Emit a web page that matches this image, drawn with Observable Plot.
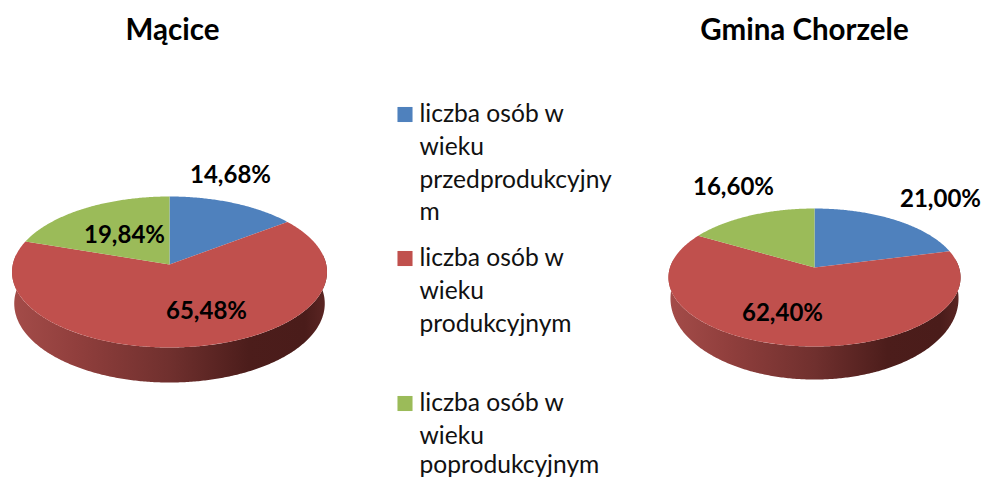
<!DOCTYPE html>
<html lang="pl">
<head>
<meta charset="utf-8">
<style>html,body{margin:0;padding:0;background:#fff}svg{display:block}</style>
<script src="https://cdn.jsdelivr.net/npm/d3@7"></script>
<script src="https://cdn.jsdelivr.net/npm/@observablehq/plot@0.6"></script>
</head>
<body>
<div id="chart"></div>
<script>
const categories = ["przedprodukcyjny", "produkcyjny", "poprodukcyjny"];
const colors = ["#4f81bd", "#c0504d", "#9bbb59"];
const titles = ["Mącice", "Gmina Chorzele"];
const valuesMacice = [14.68, 65.48, 19.84];
const valuesChorzele = [21.00, 62.40, 16.60];
const legendLines = [
  ["liczba osób w", "wieku", "przedprodukcyjny", "m"],
  ["liczba osób w", "wieku", "produkcyjnym"],
  ["liczba osób w", "wieku", "poprodukcyjnym"]
];

// Layout only: how each pie is seen in perspective, and where labels sit
const layouts = [
  {cx: 169, cy: 264, A: 156.7, B: 74.75, k: 0.0993, wallA: 154.5, wallCy: 295.2, wallB: 78.2, titleX: 172,
   labels: [[230, 175], [206, 311], [124, 235]]},
  {cx: 814, cy: 267, A: 144.5, B: 67.55, k: 0.145, wallA: 142.5, wallCy: 286.3, wallB: 79.3, titleX: 804,
   labels: [[940, 199], [782, 313], [733, 187]]}
];
const legendLayout = {swatchX: 404.5, textX: 419, starts: [114, 258, 403], step: 32.6, lowestLine: 465};

const fmt = v => v.toFixed(2).replace(".", ",") + "%";

function project(p, theta, A = p.A, B = p.B, cy = p.cy) {
  const X = Math.sin(theta), Y = Math.cos(theta), w = 1 + p.k * Y;
  return {x: p.cx + A * X / w, y: cy - B * Y / w};
}
function arc(p, a0, a1, opts = []) {
  const n = Math.max(2, Math.ceil(Math.abs(a1 - a0) / 0.01));
  return d3.range(n + 1).map(i => project(p, a0 + (a1 - a0) * i / n, ...opts));
}

const slices = [], walls = [], labels = [], swatches = [], legendText = [];
[valuesMacice, valuesChorzele].forEach((values, pi) => {
  const p = layouts[pi];
  const total = d3.sum(values);
  let start = 0;
  values.forEach((v, i) => {
    const a0 = start / total * 2 * Math.PI, a1 = (start + v) / total * 2 * Math.PI;
    start += v;
    const pts = [{x: p.cx, y: p.cy}, ...arc(p, a0, a1)];
    pts.forEach(q => slices.push({...q, key: pi + "-" + i, color: colors[i]}));
    labels.push({x: p.labels[i][0], y: p.labels[i][1], text: fmt(v)});
  });
  const front0 = Math.PI * 0.46, front1 = Math.PI * 1.54;
  const top = arc(p, front0, front1);
  const bottom = arc(p, front1, front0, [p.wallA, p.wallB, p.wallCy]);
  [...top, ...bottom].forEach(q => walls.push({...q, key: "w" + pi}));
});
legendLines.forEach((lines, i) => {
  swatches.push({x: legendLayout.swatchX, y: legendLayout.starts[i], color: colors[i], name: categories[i]});
  lines.forEach((t, j) => legendText.push({
    x: legendLayout.textX,
    y: Math.min(legendLayout.lowestLine, legendLayout.starts[i] + j * legendLayout.step),
    text: t
  }));
});

const defs = () => {
  const d = d3.create("svg:defs");
  const g = d.append("linearGradient").attr("id", "wall").attr("x1", 0).attr("x2", 1).attr("y1", 0).attr("y2", 0);
  [[0, "#a44c49"], [0.2, "#913f3d"], [0.5, "#70302e"], [0.75, "#4c1d1b"], [0.93, "#4a1c1a"], [1, "#5c2624"]]
    .forEach(([o, c]) => g.append("stop").attr("offset", o).attr("stop-color", c));
  return d.node();
};

const font = "Lato, Carlito, Calibri, sans-serif";
const chart = Plot.plot({
  width: 982, height: 479, margin: 0,
  style: {background: "#fff", fontFamily: font},
  x: {domain: [0, 982], range: [0, 982], axis: null},
  y: {domain: [0, 479], range: [0, 479], axis: null},
  color: {type: "identity"},
  marks: [
    defs,
    Plot.line(walls, {x: "x", y: "y", z: "key", fill: "url(#wall)", stroke: null, curve: "linear"}),
    Plot.line(slices, {x: "x", y: "y", z: "key", fill: "color", stroke: null, curve: "linear"}),
    Plot.text(labels, {x: "x", y: "y", text: "text", fontSize: 24, fontWeight: 700, fill: "#000", lineAnchor: "middle"}),
    Plot.text(titles.map((t, i) => ({t, x: layouts[i].titleX})), {x: "x", y: () => 30, text: "t", fontSize: 29.5, fontWeight: 700, fill: "#000", lineAnchor: "middle"}),
    Plot.dot(swatches, {x: "x", y: "y", fill: "color", symbol: "square", r: 8.5, stroke: null}),
    Plot.text(legendText, {x: "x", y: "y", text: "text", fontSize: 24.6, fill: "#111", textAnchor: "start", lineAnchor: "middle"})
  ]
});
document.getElementById("chart").append(chart);
</script>
</body>
</html>
